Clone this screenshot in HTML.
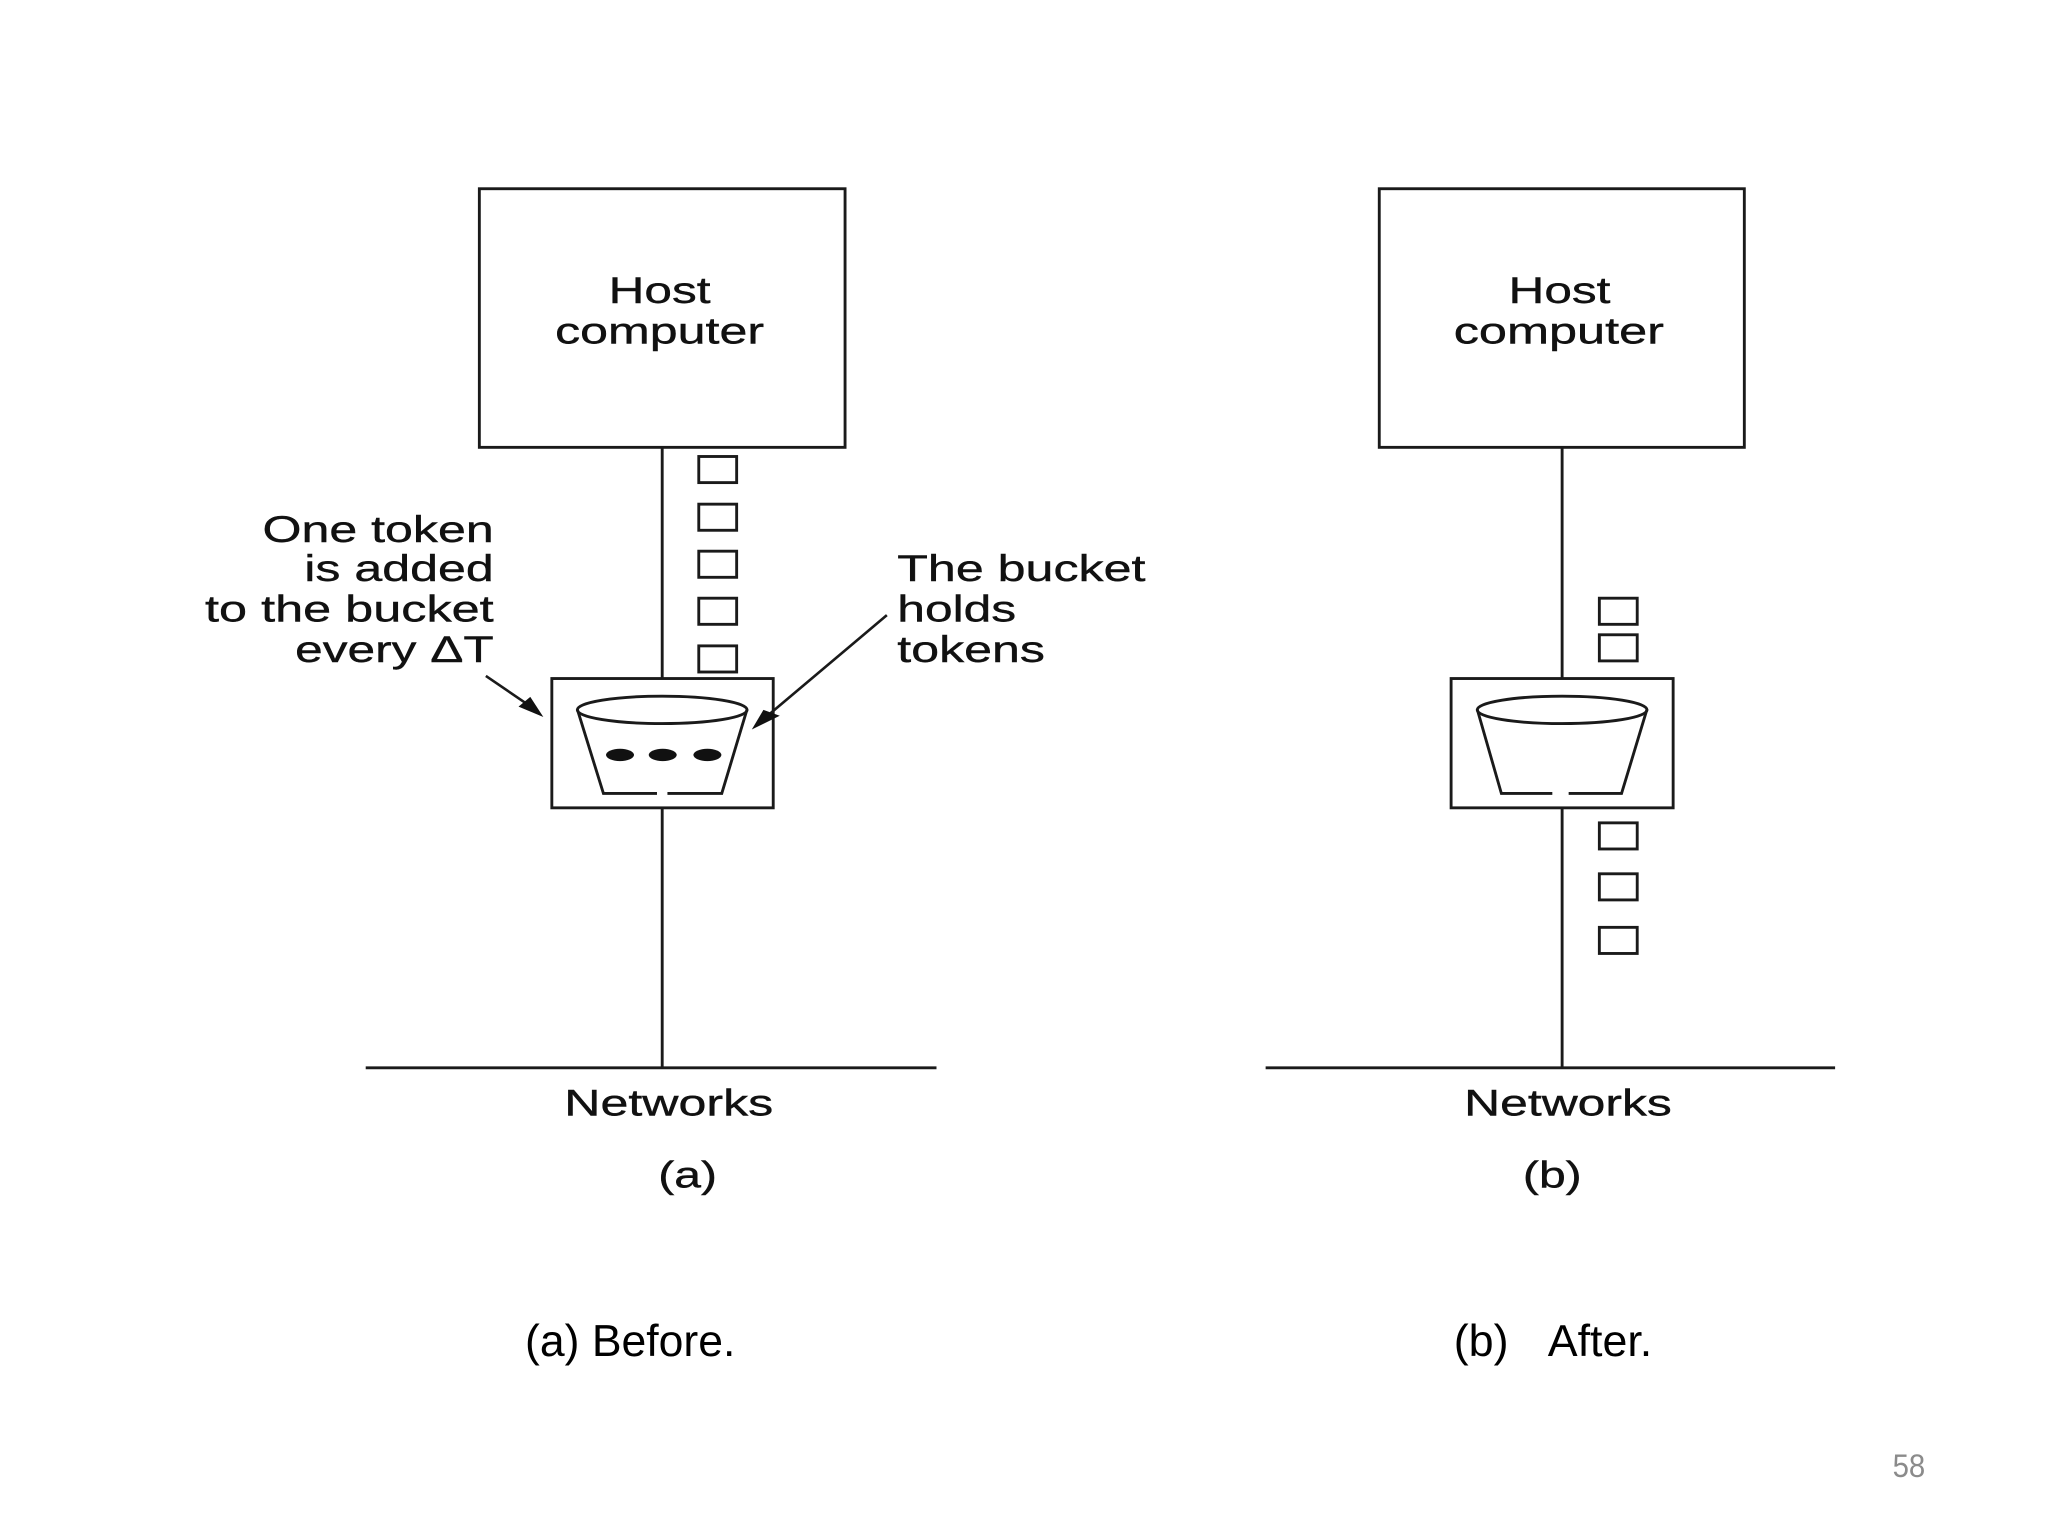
<!DOCTYPE html>
<html><head><meta charset="utf-8"><style>
html,body{margin:0;padding:0;background:#fff}
svg{display:block}
text{font-family:"Liberation Sans",sans-serif;fill:#111;font-size:28.500px;stroke:#111;stroke-width:.3px}
text.c{font-size:34px;fill:#000;stroke:none}
</style></head><body>
<svg width="2048" height="1536" viewBox="0 0 1568 1176" xmlns="http://www.w3.org/2000/svg">
<rect width="1568" height="1176" fill="#fff"/>
<g fill="none" stroke="#1a1a1a" stroke-width="2.200">
<rect x="367" y="144.500" width="280" height="198"/>
<rect x="1056" y="144.500" width="279.500" height="198"/>
<path d="M507 342V519M507 618V817M1196 342V519M1196 618V817"/>
<path d="M280 817.500H717M969 817.500H1405"/>
<rect x="422.500" y="519.500" width="169.500" height="99"/>
<rect x="1111" y="519.500" width="170" height="99"/>
<rect x="535" y="349.500" width="29" height="20"/>
<rect x="535" y="386" width="29" height="20"/>
<rect x="535" y="422" width="29" height="20"/>
<rect x="535" y="458" width="29" height="20"/>
<rect x="535" y="494.500" width="29" height="20"/>
<rect x="1224.500" y="458" width="29" height="20"/>
<rect x="1224.500" y="486" width="29" height="20"/>
<rect x="1224.500" y="630" width="29" height="20"/>
<rect x="1224.500" y="669" width="29" height="20"/>
<rect x="1224.500" y="710" width="29" height="20"/>
<ellipse cx="507" cy="543.500" rx="65" ry="10.500"/>
<path d="M442 543L462 607.500H503M511 607.500H552.600L572 543"/>
<ellipse cx="1196" cy="543.500" rx="65" ry="10.500"/>
<path d="M1131 543L1149.500 607.500H1188.500M1201 607.500H1241.500L1261 543"/>
<path d="M372 517.500L402 538M679 471L590 546" stroke-width="2"/>
</g>
<g fill="#111">
<ellipse cx="474.700" cy="578" rx="10.700" ry="4.700"/>
<ellipse cx="507.400" cy="578" rx="10.700" ry="4.700"/>
<ellipse cx="541.600" cy="578" rx="10.700" ry="4.700"/>
<polygon points="416,549 397,541 406,533.500"/>
<polygon points="575.600,558.500 584.500,543.500 597,548"/>
</g>
<text x="466" y="232" textLength="78" lengthAdjust="spacingAndGlyphs">Host</text>
<text x="425" y="263" textLength="160" lengthAdjust="spacingAndGlyphs">computer</text>
<text x="1155" y="232" textLength="78" lengthAdjust="spacingAndGlyphs">Host</text>
<text x="1113" y="263" textLength="161" lengthAdjust="spacingAndGlyphs">computer</text>
<text x="201" y="415" textLength="177" lengthAdjust="spacingAndGlyphs">One token</text>
<text x="233" y="445" textLength="145" lengthAdjust="spacingAndGlyphs">is added</text>
<text x="157" y="476" textLength="221" lengthAdjust="spacingAndGlyphs">to the bucket</text>
<text x="226" y="507" textLength="152" lengthAdjust="spacingAndGlyphs">every ΔT</text>
<text x="687" y="445" textLength="190" lengthAdjust="spacingAndGlyphs">The bucket</text>
<text x="687" y="476" textLength="91" lengthAdjust="spacingAndGlyphs">holds</text>
<text x="687" y="507" textLength="113" lengthAdjust="spacingAndGlyphs">tokens</text>
<text x="432" y="854" textLength="160" lengthAdjust="spacingAndGlyphs">Networks</text>
<text x="1121" y="854" textLength="159" lengthAdjust="spacingAndGlyphs">Networks</text>
<text x="504" y="909" textLength="45" lengthAdjust="spacingAndGlyphs">(a)</text>
<text x="1166" y="909" textLength="45" lengthAdjust="spacingAndGlyphs">(b)</text>
<text class="c" x="402" y="1038" textLength="161" lengthAdjust="spacingAndGlyphs">(a) Before.</text>
<text class="c" x="1113" y="1038" textLength="42" lengthAdjust="spacingAndGlyphs">(b)</text>
<text class="c" x="1185" y="1038" textLength="80" lengthAdjust="spacingAndGlyphs">After.</text>
<text x="1449" y="1131" textLength="25" lengthAdjust="spacingAndGlyphs" style="font-size:25px;fill:#8b8b8b;stroke:none">58</text>
</svg>
</body></html>
